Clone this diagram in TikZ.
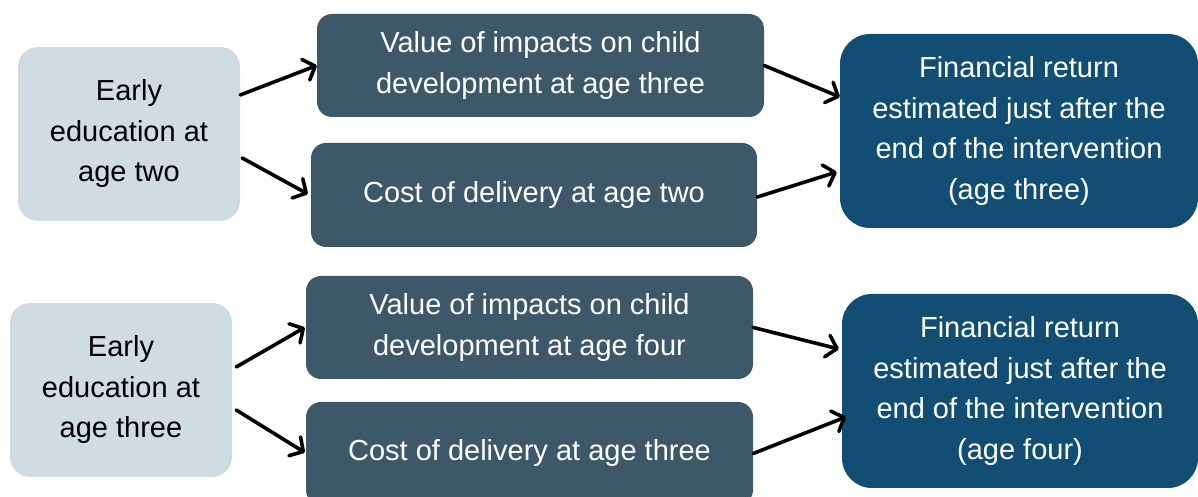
\documentclass[tikz,border=0pt]{standalone}
\usepackage{fontspec}
\setmainfont{Liberation Sans}
\usetikzlibrary{arrows.meta}
\definecolor{inputfill}{HTML}{CFDCE4}
\definecolor{stagefill}{HTML}{3D5869}
\definecolor{returnfill}{HTML}{124E73}
\begin{document}
\begin{tikzpicture}[x=1pt,y=1pt,
  every node/.style={font=\fontsize{29}{40.5}\selectfont, align=center, inner sep=0pt},
  inputbox/.style={fill=inputfill, text=black, rounded corners=20pt,
    minimum width=222pt, minimum height=174pt},
  stagebox/.style={fill=stagefill, text=white, rounded corners=15pt,
    minimum width=447pt, minimum height=103pt},
  returnbox/.style={fill=returnfill, text=white, rounded corners=30pt,
    minimum width=358pt, minimum height=194pt},
  link/.style={draw=black, line width=3.6pt, line cap=round,
    -{Straight Barb[length=10pt 0 0, width=22pt 0 0, line cap=round, line join=round]}}]
\useasboundingbox (0,0) rectangle (1198,497);

% upper chain: age two
\node[inputbox]  (l1) at (129,363)   {Early\\education at\\age two};
\node[stagebox]  (v1) at (540.5,431.5) {Value of impacts on child\\development at age three};
\node[stagebox, minimum width=446pt, minimum height=104pt]
                 (c1) at (534,302)   {Cost of delivery at age two};
\node[returnbox] (f1) at (1019,366)  {Financial return\\estimated just after the\\end of the intervention\\(age three)};

% lower chain: age three
\node[inputbox]  (l2) at (121,107)   {Early\\education at\\age three};
\node[stagebox]  (v2) at (529.5,169.5) {Value of impacts on child\\development at age four};
\node[stagebox]  (c2) at (529.5,43.5) {Cost of delivery at age three};
\node[returnbox, minimum width=356pt] (f2) at (1020,106) {Financial return\\estimated just after the\\end of the intervention\\(age four)};

% connectors
\draw[link] ([yshift=39pt]l1.east) -- ([yshift=0pt]v1.west);
\draw[link] ([xshift=2pt,yshift=-24pt]l1.east) -- ([xshift=-3pt,yshift=1pt]c1.west);
\draw[link] (v1.east) -- ([yshift=34pt]f1.west);
\draw[link] ([yshift=-2pt]c1.east) -- ([xshift=-3pt,yshift=-41pt]f1.west);

\draw[link] ([xshift=4pt,yshift=23pt]l2.east) -- ([xshift=-1pt]v2.west);
\draw[link] ([xshift=4pt,yshift=-20pt]l2.east) -- ([xshift=-1pt,yshift=1pt]c2.west);
\draw[link] (v2.east) -- ([xshift=-3pt,yshift=42pt]f2.west);
\draw[link] (c2.east) -- ([xshift=4pt,yshift=-26pt]f2.west);
\end{tikzpicture}
\end{document}
